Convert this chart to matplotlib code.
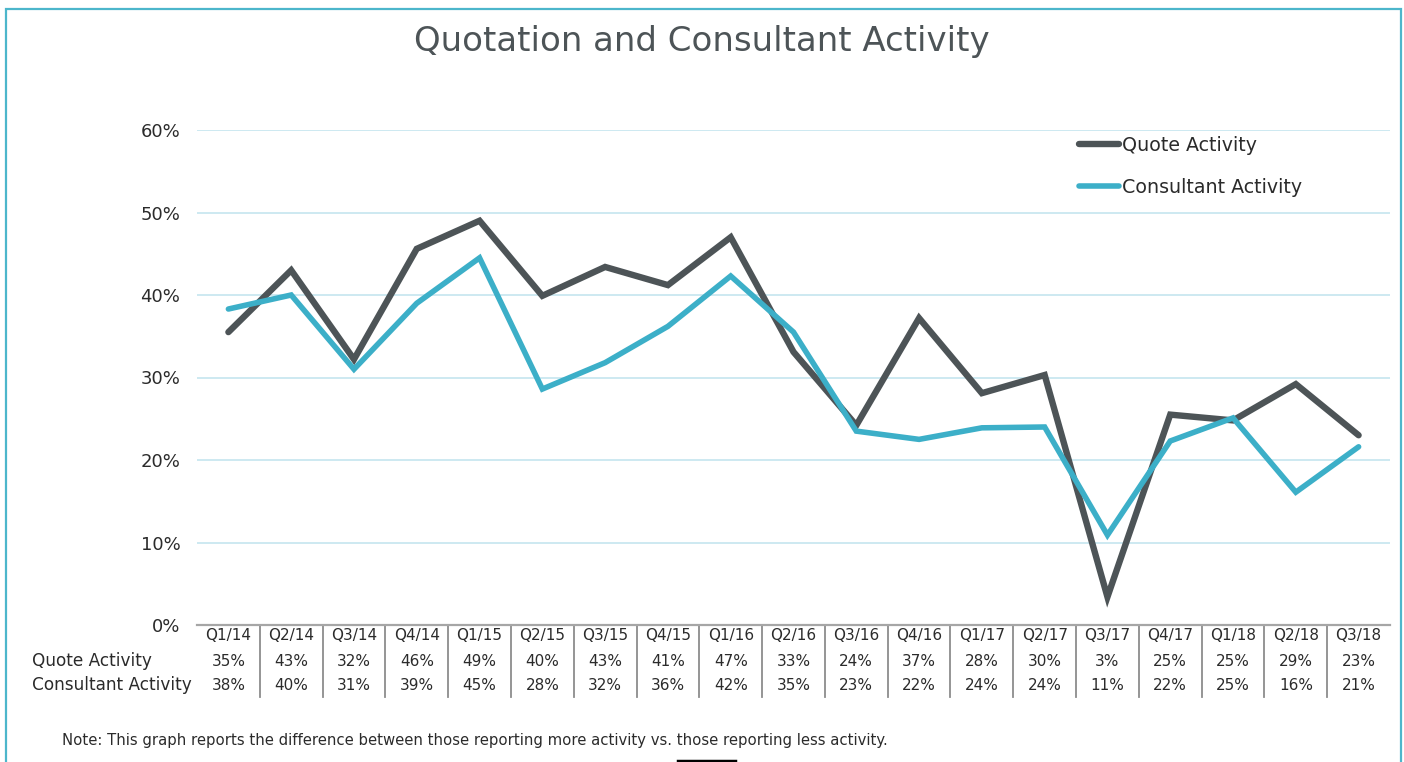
import matplotlib
matplotlib.use("Agg")
import matplotlib.pyplot as plt
from matplotlib.lines import Line2D
from matplotlib.patches import Rectangle

categories = ["Q1/14", "Q2/14", "Q3/14", "Q4/14", "Q1/15", "Q2/15", "Q3/15", "Q4/15",
              "Q1/16", "Q2/16", "Q3/16", "Q4/16", "Q1/17", "Q2/17", "Q3/17", "Q4/17",
              "Q1/18", "Q2/18", "Q3/18"]
quote = [35.5, 43.0, 32.2, 45.6, 49.0, 39.9, 43.4, 41.2, 47.0, 33.1, 24.2, 37.2,
         28.1, 30.3, 3.4, 25.5, 24.8, 29.2, 23.0]
consultant = [38.3, 40.0, 31.0, 39.0, 44.5, 28.6, 31.8, 36.2, 42.3, 35.5, 23.5, 22.5,
              23.9, 24.0, 10.9, 22.3, 25.1, 16.1, 21.6]
quote_labels = ["35%", "43%", "32%", "46%", "49%", "40%", "43%", "41%", "47%", "33%",
                "24%", "37%", "28%", "30%", "3%", "25%", "25%", "29%", "23%"]
consultant_labels = ["38%", "40%", "31%", "39%", "45%", "28%", "32%", "36%", "42%", "35%",
                     "23%", "22%", "24%", "24%", "11%", "22%", "25%", "16%", "21%"]
yticks = [0, 10, 20, 30, 40, 50, 60]

W, H = 1404, 762
fig = plt.figure(figsize=(W / 100, H / 100), dpi=100)
fig.patch.set_facecolor("white")

QC = "#4d5457"
CC = "#3cafc8"
TXT = "#2b2b2b"

# plot area
x0, x1, ytop, ybot = 197, 1390, 130, 625
ax = fig.add_axes([x0 / W, 1 - ybot / H, (x1 - x0) / W, (ybot - ytop) / H])
xs = list(range(len(categories)))
ax.plot(xs, quote, color=QC, lw=4.6, solid_capstyle="round", solid_joinstyle="miter",
        label="Quote Activity", zorder=3)
ax.plot(xs, consultant, color=CC, lw=4.0, solid_capstyle="round", solid_joinstyle="miter",
        label="Consultant Activity", zorder=4)
ax.set_xlim(-0.5, len(categories) - 0.5)
ax.set_ylim(0, 60)
ax.set_yticks(yticks)
ax.set_yticklabels([f"{v}%" for v in yticks], fontsize=13, color=TXT)
ax.tick_params(axis="y", length=0, pad=12)
ax.set_xticks([])
for v in yticks[1:]:
    ax.axhline(v, color="#cde9f1", lw=1.4, zorder=1)
for s in ["top", "right", "left"]:
    ax.spines[s].set_visible(False)
ax.spines["bottom"].set_color("#a6a6a6")
ax.spines["bottom"].set_linewidth(1.6)

# data table below the axis
tr = ax.get_xaxis_transform()
h = ybot - ytop
def ya(py):
    return (ybot - py) / h
for i, c in enumerate(categories):
    ax.text(i, ya(636), c, transform=tr, ha="center", va="center", fontsize=11, color=TXT, clip_on=False)
    ax.text(i, ya(661), quote_labels[i], transform=tr, ha="center", va="center", fontsize=11, color=TXT, clip_on=False)
    ax.text(i, ya(685), consultant_labels[i], transform=tr, ha="center", va="center", fontsize=11, color=TXT, clip_on=False)
for i in range(len(categories) - 1):
    ax.plot([i + 0.5, i + 0.5], [ya(626), ya(697)], transform=tr, color="#8c8c8c", lw=1.3, clip_on=False)
fig.text(32 / W, 1 - 661 / H, "Quote Activity", ha="left", va="center", fontsize=12.2, color=TXT)
fig.text(32 / W, 1 - 685 / H, "Consultant Activity", ha="left", va="center", fontsize=12.2, color=TXT)

# legend
leg = ax.legend(loc="upper left", bbox_to_anchor=(1062 / W, 1 - 119 / H), bbox_transform=fig.transFigure,
                frameon=False, fontsize=13.7, handlelength=2.1, handletextpad=0.15, labelspacing=1.2,
                labelcolor=TXT)

# title
fig.text(0.5, 1 - 42 / H, "Quotation and Consultant Activity", ha="center", va="center",
         fontsize=24.5, color="#4d5457")

# note
fig.text(62 / W, 1 - 740 / H,
         "Note: This graph reports the difference between those reporting more activity vs. those reporting less activity.",
         ha="left", va="center", fontsize=10.7, color=TXT)

# frame border
fig.patches.append(Rectangle((6 / W, -0.05), (1401 - 6) / W, 1.05 - 9 / H, transform=fig.transFigure,
                             fill=False, edgecolor="#4cb6cb", lw=1.6))
fig.lines.append(Line2D([678 / W, 735 / W], [1 - 761 / H, 1 - 761 / H], transform=fig.transFigure,
                        color="black", lw=2.5))

fig.savefig("out.png", dpi=100)
